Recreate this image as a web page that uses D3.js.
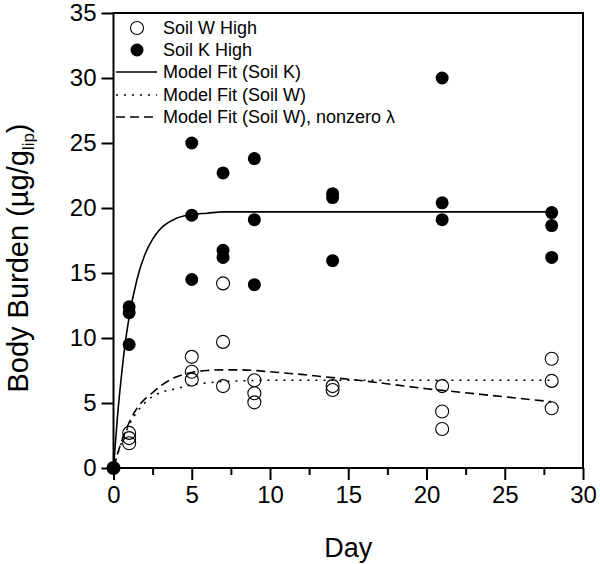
<!DOCTYPE html>
<html><head><meta charset="utf-8">
<script src="https://cdn.jsdelivr.net/npm/d3@7"></script>
<style>body{margin:0;background:#fff}svg{display:block}</style>
</head><body>
<script>
// Observed data
const wDays   = [0, 1, 1, 1, 5, 5, 5, 7, 7, 7, 9, 9, 9, 14, 14, 21, 21, 21, 28, 28, 28];
const wValues = [0, 2.7, 2.3, 1.9, 8.55, 7.4, 6.8, 14.2, 9.7, 6.3, 6.75, 5.75, 5.05, 6.3, 6.0, 6.3, 4.35, 3.0, 8.4, 6.7, 4.6];
const kDays   = [0, 1, 1, 1, 5, 5, 5, 7, 7, 7, 9, 9, 9, 14, 14, 14, 21, 21, 21, 28, 28, 28];
const kValues = [0, 12.4, 11.95, 9.5, 25.0, 19.45, 14.5, 22.7, 16.75, 16.2, 23.8, 19.1, 14.1, 21.1, 20.8, 15.95, 30.0, 20.4, 19.1, 19.65, 18.65, 16.2];
// Model fit curves
const fitKDays   = [0, 0.25, 0.5, 0.75, 1, 1.5, 2, 2.5, 3, 4, 5, 6, 7, 10, 28];
const fitKValues = [0, 3.9, 7.0, 9.6, 11.6, 14.5, 16.4, 17.6, 18.4, 19.2, 19.5, 19.6, 19.7, 19.7, 19.7];
const fitWDays   = [0, 0.5, 1, 1.5, 2, 2.5, 3, 4, 5, 6, 7, 8, 10, 28];
const fitWValues = [0, 1.9, 3.3, 4.3, 5.0, 5.5, 5.8, 6.1, 6.4, 6.55, 6.65, 6.7, 6.75, 6.75];
const fitLDays   = [0, 0.5, 1, 1.5, 2, 2.5, 3, 4, 5, 6, 7, 8, 9, 10, 12, 14, 16, 18, 20, 22, 24, 26, 28];
const fitLValues = [0, 2.0, 3.5, 4.6, 5.3, 5.8, 6.3, 7.0, 7.35, 7.5, 7.55, 7.55, 7.5, 7.4, 7.2, 6.95, 6.7, 6.4, 6.1, 5.85, 5.6, 5.35, 5.1];
const xTicks = [0, 5, 10, 15, 20, 25, 30];
const yTicks = [0, 5, 10, 15, 20, 25, 30, 35];
const legendLabels = ["Soil W High", "Soil K High", "Model Fit (Soil K)", "Model Fit (Soil W)", "Model Fit (Soil W), nonzero \u03bb"];

const W = 600, H = 564;
const m = {left: 113.5, right: 17, top: 13, bottom: 96};
const svg = d3.select("body").append("svg").attr("width", W).attr("height", H);
const font = "'Liberation Sans', Arial, sans-serif";

const x = d3.scaleLinear().domain([0, 30]).range([m.left, W - m.right]);
const y = d3.scaleLinear().domain([0, 35]).range([H - m.bottom, m.top]);

// curves
const line = d3.line().x(d => x(d[0])).y(d => y(d[1])).curve(d3.curveMonotoneX);
const curves = [
  {d: d3.zip(fitKDays, fitKValues), dash: null},
  {d: d3.zip(fitWDays, fitWValues), dash: "2,6"},
  {d: d3.zip(fitLDays, fitLValues), dash: "9,5"}
];
curves.forEach(c => {
  svg.append("path").attr("d", line(c.d)).attr("fill", "none").attr("stroke", "#000")
    .attr("stroke-width", 1.6).attr("stroke-dasharray", c.dash);
});

// points
const R = 6.5;
svg.append("g").selectAll("circle").data(d3.zip(kDays, kValues)).join("circle")
  .attr("cx", d => x(d[0])).attr("cy", d => y(d[1])).attr("r", R).attr("fill", "#000");
svg.append("g").selectAll("circle").data(d3.zip(wDays, wValues)).join("circle")
  .attr("cx", d => x(d[0])).attr("cy", d => y(d[1])).attr("r", R)
  .attr("fill", "none").attr("stroke", "#000").attr("stroke-width", 1.1);

// frame
svg.append("rect").attr("x", m.left).attr("y", m.top).attr("width", W - m.left - m.right)
  .attr("height", H - m.top - m.bottom).attr("fill", "none").attr("stroke", "#000").attr("stroke-width", 2);

// axes
const xAxis = svg.append("g").attr("transform", `translate(0,${H - m.bottom})`)
  .call(d3.axisBottom(x).tickValues(xTicks).tickSize(12).tickPadding(6));
const xMinor = svg.append("g").attr("transform", `translate(0,${H - m.bottom})`)
  .call(d3.axisBottom(x).tickValues(d3.range(2.5, 30, 5)).tickSize(7).tickFormat(""));
const yAxis = svg.append("g").attr("transform", `translate(${m.left},0)`)
  .call(d3.axisLeft(y).tickValues(yTicks).tickSize(12).tickPadding(5));
[xAxis, xMinor, yAxis].forEach(g => {
  g.select(".domain").remove();
  g.selectAll("line").attr("stroke", "#000").attr("stroke-width", 2);
  g.selectAll("text").attr("font-family", font).attr("font-size", 24).attr("fill", "#000");
});
xAxis.selectAll("text").attr("dy", "0.72em");

// titles
svg.append("text").attr("x", (m.left + W - m.right) / 2).attr("y", 557)
  .attr("text-anchor", "middle").attr("font-family", font).attr("font-size", 27).text("Day");
const yt = svg.append("text").attr("transform", `translate(28,258) rotate(-90)`)
  .attr("text-anchor", "middle").attr("font-family", font).attr("font-size", 29);
yt.append("tspan").text("Body Burden (\u00b5g/g");
yt.append("tspan").attr("font-size", 17).attr("dy", 6).text("lip");
yt.append("tspan").attr("dy", -6).text(")");

// legend
const lg = svg.append("g").attr("font-family", font).attr("font-size", 18);
const rowsY = [28, 50, 72, 95, 117];
legendLabels.forEach((t, i) => {
  lg.append("text").attr("x", 163).attr("y", rowsY[i]).attr("dy", "0.35em").text(t);
});
lg.append("circle").attr("cx", 137).attr("cy", rowsY[0]).attr("r", R).attr("fill", "none").attr("stroke", "#000").attr("stroke-width", 1.1);
lg.append("circle").attr("cx", 137).attr("cy", rowsY[1]).attr("r", R).attr("fill", "#000");
[null, "2,6", "9,5"].forEach((dash, j) => {
  lg.append("line").attr("x1", 116).attr("x2", 157).attr("y1", rowsY[j + 2]).attr("y2", rowsY[j + 2])
    .attr("stroke", "#000").attr("stroke-width", 1.6).attr("stroke-dasharray", dash);
});
</script>
</body></html>
